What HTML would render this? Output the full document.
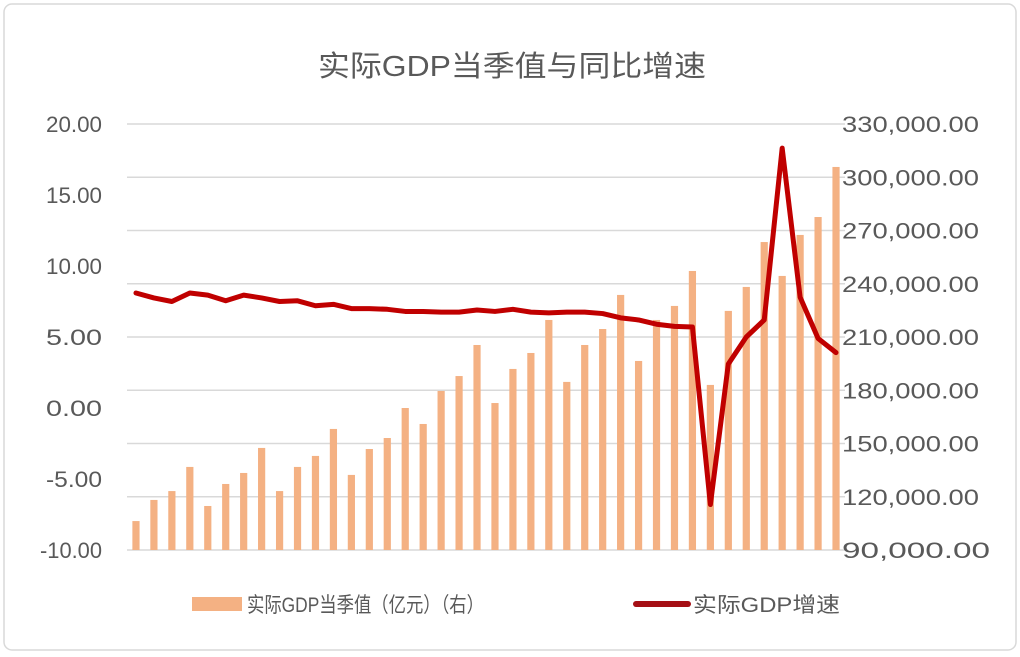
<!DOCTYPE html>
<html><head><meta charset="utf-8"><style>
html,body{margin:0;padding:0;background:#fff;}
svg{display:block;font-family:"Liberation Sans","Noto Sans CJK SC",sans-serif;}
</style></head><body>
<svg id="c" width="1020" height="657" xmlns="http://www.w3.org/2000/svg">
<rect x="4" y="4" width="1012" height="646" rx="8" fill="#fff" stroke="#d9d9d9" stroke-width="1.5"/>
<text x="318" y="76" font-size="29" fill="#595959" textLength="388" lengthAdjust="spacingAndGlyphs">实际GDP当季值与同比增速</text>
<g id="grid"></g><g id="bars"></g><g id="line"></g><g id="ticks"></g>
<g>
<rect x="192" y="597" width="50" height="14" fill="#F4B183"/>
<text x="247" y="612" font-size="21" fill="#595959" textLength="237" lengthAdjust="spacingAndGlyphs">实际GDP当季值（亿元）（右）</text>
<line x1="636" y1="604" x2="688" y2="604" stroke="#A50F15" stroke-width="6" stroke-linecap="round"/>
<text x="693" y="612" font-size="21" fill="#595959" textLength="147" lengthAdjust="spacingAndGlyphs">实际GDP增速</text>
</g>
</svg>
<script>
const gdpValues=[106300,118200,123200,136800,114800,127200,133400,147500,123200,136800,143000,158200,132300,146900,153100,170000,161000,179600,188000,205500,172800,192000,201000,219600,184700,205500,214500,233700,196500,219600,227500,247200,183000,224700,238200,263500,244400,267500,277600,305800];
const growthValues=[8.1,7.75,7.5,8.1,7.95,7.55,7.95,7.75,7.5,7.55,7.2,7.3,7.0,7.0,6.95,6.8,6.8,6.75,6.75,6.9,6.8,6.95,6.75,6.7,6.75,6.75,6.65,6.35,6.2,5.9,5.75,5.7,-6.8,3.1,5.0,6.2,18.3,7.8,4.9,3.9];
const leftTicks=[-10,-5,0,5,10,15,20];
const rightTicks=[90000,120000,150000,180000,210000,240000,270000,300000,330000];
const NS="http://www.w3.org/2000/svg";
const X0=127,X1=845,Y0=550,Y1=124;
const band=(X1-X0)/gdpValues.length;
const xc=i=>X0+band*(i+0.5);
const yL=v=>Y0-(v-(-10))/30*(Y0-Y1);
const yR=v=>Y0-(v-90000)/240000*(Y0-Y1);
function mk(t,a,p){const e=document.createElementNS(NS,t);for(const k in a)e.setAttribute(k,a[k]);p.appendChild(e);return e;}
const g=document.getElementById('grid'),b=document.getElementById('bars'),l=document.getElementById('line'),tk=document.getElementById('ticks');
rightTicks.forEach(v=>{const e=mk('line',{x1:X0,x2:X1,y1:yR(v),y2:yR(v),stroke:'#d9d9d9','stroke-width':1.5},g);


const s=v.toLocaleString('en-US')+'.00';
const t=mk('text',{x:842,y:yR(v)+8,'font-size':22,fill:'#595959',textLength:(s.length===10?137:148),lengthAdjust:'spacingAndGlyphs'},tk);t.textContent=s;

});
leftTicks.forEach(v=>{const s=v.toFixed(2);const t=mk('text',{x:102,y:yL(v)+8,'font-size':22,fill:'#595959','text-anchor':'end',textLength:(s.length===6?62:56),lengthAdjust:'spacingAndGlyphs'},tk);t.textContent=s;

});
gdpValues.forEach((v,i)=>{const r=mk('rect',{x:xc(i)-3.6,y:yR(v),width:7.2,height:Y0-yR(v),fill:'#F4B183'},b);

});
const pl=mk('polyline',{points:growthValues.map((v,i)=>xc(i)+','+yL(v)).join(' '),fill:'none',stroke:'#C00000','stroke-width':5,'stroke-linejoin':'round','stroke-linecap':'round'},l);


</script>
</body></html>
